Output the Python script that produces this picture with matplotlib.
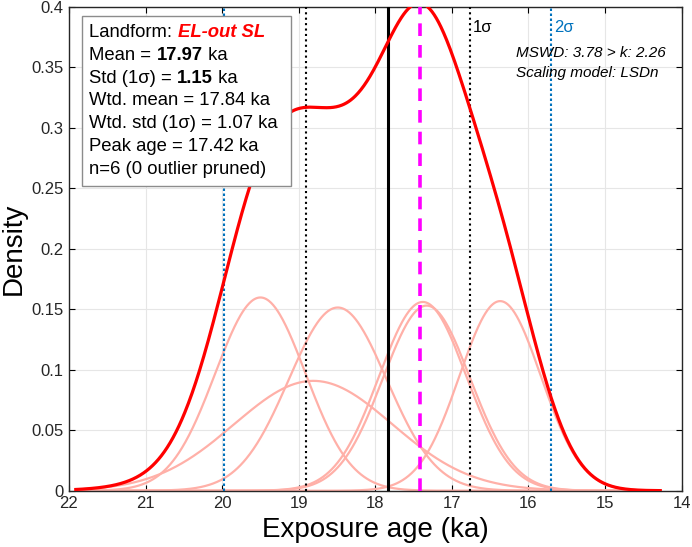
import numpy as np
import matplotlib
matplotlib.use('Agg')
import matplotlib.pyplot as plt
from matplotlib.ticker import FuncFormatter

plt.rcParams['font.family'] = ['Liberation Sans', 'DejaVu Sans']

# individual sample age densities
ages = [19.50, 18.49, 18.81, 17.38, 17.33, 16.37]     # ka, peak position
sigmas = [0.59, 0.64, 1.03, 0.57, 0.57, 0.53]         # ka, width
peaks = [0.1597, 0.1514, 0.0908, 0.156, 0.153, 0.1567]

x_min, x_max = 14.28, 21.91

wtd_mean = 17.84
wtd_std = 1.07
peak_age = 17.42

# each line: list of (text, bold, italic, colour)
legend_lines = [
    [("Landform: ", False, False, 'black'), ("EL-out SL", True, True, 'red')],
    [("Mean = ", False, False, 'black'), ("17.97", True, False, 'black'), (" ka", False, False, 'black')],
    [("Std (1σ) = ", False, False, 'black'), ("1.15", True, False, 'black'), (" ka", False, False, 'black')],
    [("Wtd. mean = 17.84 ka", False, False, 'black')],
    [("Wtd. std (1σ) = 1.07 ka", False, False, 'black')],
    [("Peak age = 17.42 ka", False, False, 'black')],
    [("n=6 (0 outlier pruned)", False, False, 'black')],
]

x = np.linspace(x_min, x_max, 800)
comps = [p * np.exp(-0.5 * ((x - a) / s) ** 2) for a, s, p in zip(ages, sigmas, peaks)]
total = np.sum(comps, axis=0)

fig = plt.figure(figsize=(6.92, 5.47), dpi=100)
ax = fig.add_axes([0.0996, 0.1029, 0.8855, 0.8848])

for c in comps:
    ax.plot(x, c, color='#ffb0a8', lw=1.6, zorder=2)

# sigma lines
for v in [wtd_mean - 2 * wtd_std, wtd_mean + 2 * wtd_std]:
    ax.axvline(v, color='#0072BD', ls=(0, (1.2, 1.2)), lw=1.5, zorder=3)
for v in [wtd_mean - wtd_std, wtd_mean + wtd_std]:
    ax.axvline(v, color='black', ls=(0, (1, 1.6)), lw=1.5, zorder=3)
ax.axvline(wtd_mean, color='black', lw=2.2, zorder=3)
ax.axvline(peak_age, color='#ff00ff', ls=(0, (3.5, 2.5)), lw=2.6, zorder=3)

ax.plot(x, total, color='red', lw=2.3, zorder=4)

ax.set_xlim(22, 14)
ax.set_ylim(0, 0.4)
ax.set_xticks(np.arange(14, 23, 1))
ax.set_yticks(np.arange(0, 0.401, 0.05))
ax.yaxis.set_major_formatter(FuncFormatter(lambda v, p: '%g' % round(v, 2)))
ax.grid(True, color='#e6e6e6', lw=0.8, zorder=0)
ax.set_axisbelow(True)
ax.tick_params(direction='in', top=True, right=True, length=4, width=0.8,
               labelsize=12, labelcolor='#262626', pad=4)
for sp in ax.spines.values():
    sp.set_linewidth(1.0)
    sp.set_color('#262626')

ax.set_xlabel('Exposure age (ka)', fontsize=20, labelpad=4)
ax.set_ylabel('Density', fontsize=20, labelpad=3)

# sigma labels and info text
ax.text(16.73, 0.383, '1σ', fontsize=12, color='black', va='center')
ax.text(15.66, 0.383, '2σ', fontsize=12, color='#0072BD', va='center')
ax.text(16.16, 0.362, 'MSWD: 3.78 > k: 2.26', fontsize=11, style='italic', va='center')
ax.text(16.16, 0.345, 'Scaling model: LSDn', fontsize=11, style='italic', va='center')

# legend-like box
box = plt.Rectangle((0.0214, 0.629), 0.341, 0.352, transform=ax.transAxes,
                    facecolor='white', edgecolor='#8c8c8c', lw=1.0, zorder=6)
ax.add_patch(box)
for i, parts in enumerate(legend_lines):
    prev = None
    for txt, bold, ital, col in parts:
        kw = dict(fontsize=13.3, color=col, zorder=7,
                  fontweight='bold' if bold else 'normal',
                  style='italic' if ital else 'normal')
        if prev is None:
            prev = ax.text(0.0335, 0.938 - i * 0.0473, txt, transform=ax.transAxes,
                           va='baseline', **kw)
        else:
            prev = ax.annotate(txt, xy=(1, 0), xycoords=prev, va='bottom', ha='left', **kw)

fig.savefig('out.png', dpi=100)
